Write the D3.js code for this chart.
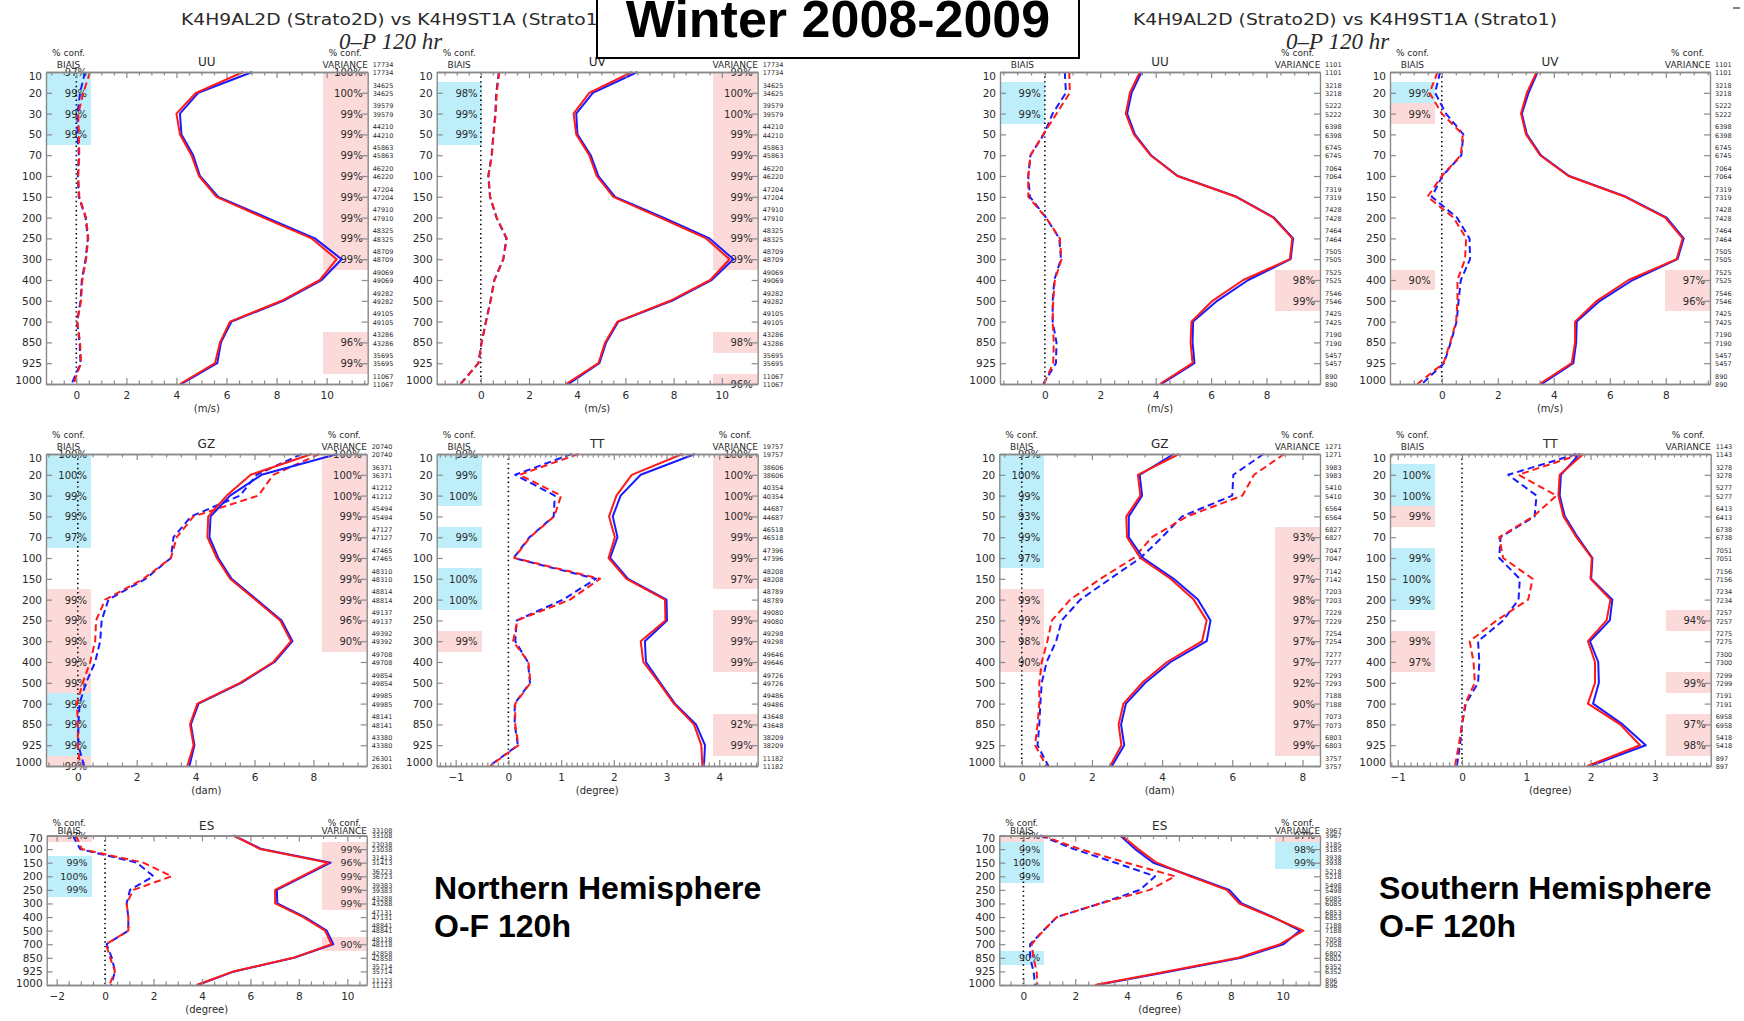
<!DOCTYPE html>
<html>
<head>
<meta charset="utf-8">
<script src="https://cdn.jsdelivr.net/npm/d3@7"></script>
<style>
  body { margin: 0; background: #fff; }
  svg { display: block; }
</style>
</head>
<body>
<svg id="chart" width="1744" height="1021"></svg>
<script>
// ---------------------------------------------------------------------------
// Pressure levels (hPa)
const levels   = [10, 20, 30, 50, 70, 100, 150, 200, 250, 300, 400, 500, 700, 850, 925, 1000];
const levelsES = [70, 100, 150, 200, 250, 300, 400, 500, 700, 850, 925, 1000];

// Confidence markers: [level, percent, kind]  kind "g" = gain, "l" = loss
// Series: std = standard deviation (solid), bias (dashed); A = Strato1 (blue), B = Strato2D (red)

// ---- Northern Hemisphere UU (m/s)
const nhUU_stdA  = [7.03, 4.87, 4.14, 4.2, 4.67, 4.94, 5.67, 7.6, 9.53, 10.6, 9.8, 8.27, 6.2, 5.78, 5.63, 4.2];
const nhUU_stdB  = [6.67, 4.78, 4.0, 4.14, 4.6, 4.9, 5.6, 7.47, 9.4, 10.4, 9.73, 8.2, 6.14, 5.74, 5.54, 4.14];
const nhUU_biasA = [0.35, 0.15, 0.05, 0.05, 0.1, 0.06, 0.1, 0.37, 0.46, 0.37, 0.22, 0.17, 0.03, 0.13, 0.17, -0.19];
const nhUU_biasB = [0.55, 0.28, 0.08, 0.1, 0.12, 0.08, 0.12, 0.39, 0.48, 0.39, 0.24, 0.19, 0.04, 0.15, 0.19, -0.12];
const nhUU_biasConf = [[10, 97, "g"], [20, 99, "g"], [30, 99, "g"], [50, 99, "g"]];
const nhUU_varConf  = [[10, 100, "l"], [20, 100, "l"], [30, 99, "l"], [50, 99, "l"], [70, 99, "l"], [100, 99, "l"],
                       [150, 99, "l"], [200, 99, "l"], [250, 99, "l"], [300, 99, "l"], [850, 96, "l"], [925, 99, "l"]];
const nhWind_counts = [17734, 34625, 39579, 44210, 45863, 46220, 47204, 47910, 48325, 48709, 49069, 49282, 49105, 43286, 35695, 11067];

// ---- Northern Hemisphere UV (m/s)
const nhUV_stdA  = [6.5, 4.65, 3.96, 4.01, 4.56, 4.88, 5.57, 7.58, 9.49, 10.48, 9.58, 7.93, 5.71, 5.2, 4.92, 3.64];
const nhUV_stdB  = [6.27, 4.5, 3.85, 3.96, 4.5, 4.81, 5.5, 7.44, 9.35, 10.32, 9.52, 7.86, 5.67, 5.16, 4.88, 3.54];
const nhUV_biasA = [0.75, 0.64, 0.6, 0.52, 0.45, 0.31, 0.38, 0.65, 1.06, 0.93, 0.56, 0.4, 0.21, 0.03, -0.1, -0.85];
const nhUV_biasB = [0.77, 0.66, 0.62, 0.53, 0.46, 0.32, 0.39, 0.66, 1.08, 0.94, 0.57, 0.41, 0.22, 0.04, -0.1, -0.83];
const nhUV_biasConf = [[20, 98, "g"], [30, 99, "g"], [50, 99, "g"]];
const nhUV_varConf  = [[10, 99, "l"], [20, 100, "l"], [30, 100, "l"], [50, 99, "l"], [70, 99, "l"], [100, 99, "l"],
                       [150, 99, "l"], [200, 99, "l"], [250, 99, "l"], [300, 99, "l"], [850, 98, "l"], [1000, 96, "l"]];

// ---- Southern Hemisphere UU (m/s)
const shUU_stdA  = [3.49, 3.13, 2.97, 3.25, 3.83, 4.8, 6.92, 8.27, 8.96, 8.87, 7.34, 6.22, 5.35, 5.33, 5.4, 4.21];
const shUU_stdB  = [3.43, 3.07, 2.92, 3.21, 3.81, 4.78, 6.9, 8.24, 8.93, 8.84, 7.16, 6.05, 5.29, 5.26, 5.33, 4.15];
const shUU_biasA = [0.72, 0.76, 0.28, -0.04, -0.52, -0.6, -0.54, 0.04, 0.52, 0.58, 0.34, 0.28, 0.28, 0.42, 0.4, -0.06];
const shUU_biasB = [0.88, 0.9, 0.42, -0.06, -0.52, -0.6, -0.6, 0.04, 0.54, 0.6, 0.36, 0.3, 0.28, 0.32, 0.3, -0.04];
const shUU_biasConf = [[20, 99, "g"], [30, 99, "g"]];
const shUU_varConf  = [[400, 98, "l"], [500, 99, "l"]];
const shWind_counts = [1101, 3218, 5222, 6398, 6745, 7064, 7319, 7428, 7464, 7505, 7525, 7546, 7425, 7190, 5457, 890];

// ---- Southern Hemisphere UV (m/s)
const shUV_stdA  = [3.42, 3.1, 2.86, 3.04, 3.54, 4.55, 6.58, 8.03, 8.64, 8.42, 6.82, 5.65, 4.82, 4.8, 4.7, 3.57];
const shUV_stdB  = [3.39, 3.04, 2.83, 3.01, 3.51, 4.52, 6.55, 7.98, 8.6, 8.39, 6.67, 5.54, 4.76, 4.76, 4.64, 3.49];
const shUV_biasA = [-0.06, -0.24, 0.15, 0.77, 0.7, 0.02, -0.36, 0.54, 0.99, 1.01, 0.68, 0.6, 0.53, 0.32, 0.08, -0.71];
const shUV_biasB = [-0.15, -0.44, 0.0, 0.75, 0.68, 0.0, -0.51, 0.42, 0.87, 0.83, 0.56, 0.56, 0.51, 0.3, 0.06, -0.87];
const shUV_biasConf = [[20, 99, "g"], [30, 99, "l"], [400, 90, "l"]];
const shUV_varConf  = [[400, 97, "l"], [500, 96, "l"]];

// ---- Northern Hemisphere GZ (dam)
const nhGZ_stdA  = [8.81, 6.24, 5.17, 4.51, 4.47, 4.77, 5.22, 6.07, 6.92, 7.29, 6.68, 5.55, 4.1, 3.84, 3.96, 3.79];
const nhGZ_stdB  = [7.94, 5.87, 5.06, 4.43, 4.4, 4.72, 5.17, 6.02, 6.87, 7.24, 6.64, 5.51, 4.06, 3.81, 3.93, 3.72];
const nhGZ_biasA = [7.6, 6.07, 5.51, 3.85, 3.25, 3.16, 2.3, 1.04, 0.81, 0.76, 0.59, 0.28, 0.06, 0.02, 0.02, 0.21];
const nhGZ_biasB = [8.2, 6.64, 6.13, 3.93, 3.36, 3.16, 2.23, 0.93, 0.62, 0.59, 0.42, 0.17, -0.03, 0.0, 0.0, 0.08];
const nhGZ_biasConf = [[10, 100, "g"], [20, 100, "g"], [30, 99, "g"], [50, 99, "g"], [70, 97, "g"],
                       [200, 99, "l"], [250, 99, "l"], [300, 99, "l"], [400, 99, "l"], [500, 99, "l"],
                       [700, 99, "g"], [850, 99, "g"], [925, 99, "g"], [1000, 99, "l"]];
const nhGZ_varConf  = [[10, 100, "l"], [20, 100, "l"], [30, 100, "l"], [50, 99, "l"], [70, 99, "l"], [100, 99, "l"],
                       [150, 99, "l"], [200, 99, "l"], [250, 96, "l"], [300, 90, "l"]];
const nhGZ_counts = [20740, 36371, 41212, 45494, 47127, 47465, 48310, 48814, 49137, 49392, 49708, 49854, 49985, 48141, 43380, 26301];

// ---- Northern Hemisphere TT (degree)
const nhTT_stdA  = [3.54, 2.51, 2.13, 1.98, 2.07, 1.93, 2.27, 3.0, 3.01, 2.59, 2.61, 2.88, 3.16, 3.56, 3.73, 3.71];
const nhTT_stdB  = [3.3, 2.34, 2.05, 1.91, 2.02, 1.9, 2.24, 2.97, 2.98, 2.51, 2.56, 2.86, 3.14, 3.52, 3.66, 3.68];
const nhTT_biasA = [1.2, 0.13, 0.88, 0.86, 0.4, 0.1, 1.66, 1.04, 0.16, 0.13, 0.37, 0.41, 0.12, 0.12, 0.18, -0.36];
const nhTT_biasB = [1.33, 0.21, 1.0, 0.87, 0.41, 0.11, 1.74, 1.17, 0.17, 0.09, 0.38, 0.42, 0.13, 0.13, 0.19, -0.35];
const nhTT_biasConf = [[10, 99, "g"], [20, 99, "g"], [30, 100, "g"], [70, 99, "g"], [150, 100, "g"], [200, 100, "g"], [300, 99, "l"]];
const nhTT_varConf  = [[10, 100, "l"], [20, 100, "l"], [30, 100, "l"], [50, 100, "l"], [70, 99, "l"], [100, 99, "l"],
                       [150, 97, "l"], [250, 99, "l"], [300, 99, "l"], [400, 99, "l"], [850, 92, "l"], [925, 99, "l"]];
const nhTT_counts = [19757, 38606, 40354, 44687, 46518, 47396, 48208, 48789, 49080, 49298, 49646, 49726, 49486, 43648, 38209, 11182];

// ---- Southern Hemisphere GZ (dam)
const shGZ_stdA  = [4.33, 3.36, 3.43, 3.05, 3.05, 3.46, 4.33, 5.02, 5.38, 5.27, 4.24, 3.52, 2.97, 2.83, 2.92, 2.57];
const shGZ_stdB  = [4.48, 3.31, 3.38, 2.98, 3.0, 3.38, 4.24, 4.9, 5.27, 5.14, 4.14, 3.43, 2.9, 2.76, 2.84, 2.52];
const shGZ_biasA = [6.89, 6.03, 6.0, 4.57, 4.0, 3.38, 2.52, 1.67, 1.14, 0.98, 0.71, 0.57, 0.53, 0.5, 0.45, 0.76];
const shGZ_biasB = [7.48, 6.62, 6.29, 4.71, 3.71, 3.19, 2.24, 1.38, 0.86, 0.73, 0.57, 0.5, 0.5, 0.45, 0.38, 0.7];
const shGZ_biasConf = [[10, 99, "g"], [20, 100, "g"], [30, 99, "g"], [50, 93, "g"], [70, 99, "g"], [100, 97, "g"],
                       [200, 99, "l"], [250, 99, "l"], [300, 98, "l"], [400, 90, "l"]];
const shGZ_varConf  = [[70, 93, "l"], [100, 99, "l"], [150, 97, "l"], [200, 98, "l"], [250, 97, "l"], [300, 97, "l"],
                       [400, 97, "l"], [500, 92, "l"], [700, 90, "l"], [850, 97, "l"], [925, 99, "l"]];
const shGZ_counts = [1271, 3983, 5410, 6564, 6827, 7047, 7142, 7203, 7229, 7254, 7277, 7293, 7188, 7073, 6803, 3757];

// ---- Southern Hemisphere TT (degree)
const shTT_stdA  = [1.83, 1.54, 1.52, 1.6, 1.8, 2.03, 2.01, 2.34, 2.3, 1.99, 2.12, 2.13, 2.04, 2.5, 2.86, 1.99];
const shTT_stdB  = [1.89, 1.52, 1.5, 1.58, 1.78, 2.02, 2.0, 2.31, 2.25, 1.96, 2.07, 2.07, 1.96, 2.46, 2.77, 1.95];
const shTT_biasA = [1.78, 0.72, 1.16, 1.13, 0.6, 0.58, 0.9, 0.88, 0.64, 0.25, 0.27, 0.25, 0.06, 0.0, -0.03, -0.08];
const shTT_biasB = [1.85, 0.88, 1.47, 1.11, 0.58, 0.64, 1.1, 1.03, 0.54, 0.12, 0.18, 0.2, 0.05, 0.0, -0.05, -0.11];
const shTT_biasConf = [[20, 100, "g"], [30, 100, "g"], [50, 99, "l"], [100, 99, "g"], [150, 100, "g"], [200, 99, "g"],
                       [300, 99, "l"], [400, 97, "l"]];
const shTT_varConf  = [[250, 94, "l"], [500, 99, "l"], [850, 97, "l"], [925, 98, "l"]];
const shTT_counts = [1143, 3278, 5277, 6413, 6738, 7051, 7156, 7234, 7257, 7275, 7300, 7299, 7191, 6958, 5418, 897];

// ---- Northern Hemisphere ES (degree)
const nhES_stdA  = [5.3, 6.46, 9.31, 8.19, 7.09, 7.11, 8.25, 9.15, 9.42, 7.8, 5.33, 3.82];
const nhES_stdB  = [5.3, 6.4, 9.22, 8.12, 7.02, 7.02, 8.18, 9.08, 9.35, 7.77, 5.3, 3.78];
const nhES_biasA = [-1.33, -1.03, 1.31, 2.0, 1.03, 0.89, 0.96, 0.96, 0.06, 0.28, 0.41, 0.25];
const nhES_biasB = [-1.2, -0.96, 1.58, 2.75, 1.17, 0.89, 0.96, 0.96, 0.04, 0.21, 0.41, 0.18];
const nhES_biasConf = [[70, 97, "l"], [150, 99, "g"], [200, 100, "g"], [250, 99, "g"]];
const nhES_varConf  = [[100, 99, "l"], [150, 96, "l"], [200, 99, "l"], [250, 99, "l"], [300, 99, "l"], [700, 90, "l"]];
const nhES_counts = [33108, 23038, 31413, 36723, 39383, 43288, 47131, 48841, 48118, 42858, 35714, 11123];

// ---- Southern Hemisphere ES (degree)
const shES_stdA  = [3.73, 4.31, 5.01, 6.5, 7.94, 8.42, 9.64, 10.67, 10.03, 8.4, 5.65, 2.83];
const shES_stdB  = [3.79, 4.43, 5.14, 6.43, 7.84, 8.33, 9.58, 10.8, 9.9, 8.29, 5.53, 2.76];
const shES_biasA = [0.64, 1.95, 3.55, 5.08, 4.5, 2.96, 1.29, 0.77, 0.26, 0.26, 0.39, 0.45];
const shES_biasB = [0.7, 2.18, 3.97, 5.85, 4.88, 2.96, 1.29, 0.77, 0.32, 0.39, 0.51, 0.54];
const shES_biasConf = [[70, 99, "l"], [100, 99, "g"], [150, 100, "g"], [200, 99, "g"], [850, 90, "g"]];
const shES_varConf  = [[70, 97, "l"], [100, 98, "g"], [150, 99, "g"]];
const shES_counts = [3967, 3185, 3938, 5218, 5498, 6085, 6853, 7188, 7058, 6802, 6352, 896];

// Axis tick values
const ticksWindNH = [0, 2, 4, 6, 8, 10];
const ticksWindSH = [0, 2, 4, 6, 8];
const ticksGZ     = [0, 2, 4, 6, 8];
const ticksTTNH   = [-1, 0, 1, 2, 3, 4];
const ticksTTSH   = [-1, 0, 1, 2, 3];
const ticksESNH   = [-2, 0, 2, 4, 6, 8, 10];
const ticksESSH   = [0, 2, 4, 6, 8, 10];

// ---------------------------------------------------------------------------
const svg = d3.select("#chart");
const FONT = "'DejaVu Sans', 'Liberation Sans', sans-serif";
const TXT = "#2a2a2a";
const FRAME = "#8a8a8a";
const BAND = { g: "#bdeefa", l: "#fcdada" };
const BLUE = "#1a1aff", RED = "#ff1a1a";

function panel(c) {
  const g = svg.append("g");
  const x = d3.scaleLinear().domain(c.domain).range([c.left, c.right]);
  const y = d3.scalePoint().domain(c.levels).range([c.top, c.bottom]);
  const step = y.step();
  const bw = (c.right - c.left) * 0.14;
  const compact = c.compact;

  // confidence bands
  function bands(conf, x0, labelRight) {
    conf.forEach(([lev, pct, k]) => {
      const yc = y(lev);
      const t = Math.max(c.top, yc - step / 2), b = Math.min(c.bottom, yc + step / 2);
      g.append("rect").attr("x", x0).attr("y", t).attr("width", bw).attr("height", b - t)
        .attr("fill", BAND[k]).attr("shape-rendering", "crispEdges");
    });
    conf.forEach(([lev, pct]) => {
      g.append("text").attr("x", labelRight).attr("y", y(lev) + 1)
        .attr("text-anchor", "end").attr("dominant-baseline", "middle")
        .attr("font-family", FONT).attr("font-size", compact ? 9.5 : 10).attr("fill", TXT)
        .text(pct + "%");
    });
  }
  bands(c.biasConf, c.left, c.left + bw - 4);
  bands(c.varConf, c.right - bw, c.right - 5);

  // zero reference line
  g.append("line").attr("x1", x(0)).attr("x2", x(0)).attr("y1", c.top).attr("y2", c.bottom)
    .attr("stroke", "#000").attr("stroke-width", 1.6).attr("stroke-dasharray", "1.4,3.2");

  // profiles
  const line = d3.line().x(d => x(d[1])).y(d => y(d[0]));
  const series = [
    [c.biasA, BLUE, true], [c.biasB, RED, true],
    [c.stdA, BLUE, false], [c.stdB, RED, false]
  ];
  series.forEach(([vals, col, dashed]) => {
    g.append("path").datum(c.levels.map((l, i) => [l, vals[i]]))
      .attr("d", line).attr("fill", "none").attr("stroke", col).attr("stroke-width", 2)
      .attr("stroke-linejoin", "round")
      .attr("stroke-dasharray", dashed ? "7,4" : null);
  });

  // axes
  const minor = d3.range(Math.ceil(c.domain[0] / c.minor) * c.minor, c.domain[1], c.minor)
    .filter(v => !c.ticks.some(t => Math.abs(t - v) < 1e-6));
  const styleAxis = sel => {
    sel.selectAll("path.domain").attr("stroke", FRAME).attr("stroke-width", 1.4);
    sel.selectAll(".tick line").attr("stroke", FRAME).attr("stroke-width", 1.2);
    sel.selectAll("text").attr("font-family", FONT).attr("fill", TXT);
  };
  // bottom
  g.append("g").attr("transform", `translate(0,${c.bottom})`)
    .call(d3.axisBottom(x).tickValues(c.ticks).tickSize(-6).tickSizeOuter(0).tickPadding(8)
      .tickFormat(d => d < 0 ? "\u2212" + Math.abs(d) : d))
    .call(styleAxis).call(s => s.selectAll("text").attr("font-size", 10.5));
  g.append("g").attr("transform", `translate(0,${c.bottom})`)
    .call(d3.axisBottom(x).tickValues(minor).tickSize(-3.5).tickSizeOuter(0).tickFormat(""))
    .call(styleAxis);
  // top
  g.append("g").attr("transform", `translate(0,${c.top})`)
    .call(d3.axisTop(x).tickValues(c.ticks).tickSize(-6).tickSizeOuter(0).tickFormat(""))
    .call(styleAxis);
  g.append("g").attr("transform", `translate(0,${c.top})`)
    .call(d3.axisTop(x).tickValues(minor).tickSize(-3.5).tickSizeOuter(0).tickFormat(""))
    .call(styleAxis);
  // left
  const nudge = step * 0.17;
  g.append("g").attr("transform", `translate(${c.left},0)`)
    .call(d3.axisLeft(y).tickSize(-6).tickSizeOuter(0).tickPadding(4))
    .call(styleAxis)
    .call(s => s.selectAll("text").attr("font-size", 10.5)
      .attr("dy", (d, i) => (i === 0 ? nudge : i === c.levels.length - 1 ? -nudge : 0) + 3.5));
  // right
  g.append("g").attr("transform", `translate(${c.right},0)`)
    .call(d3.axisRight(y).tickSize(-6).tickSizeOuter(0).tickFormat(""))
    .call(styleAxis);

  // sample counts
  const off = compact ? [-4, 1] : [-7, 1.5];
  c.levels.forEach((l, i) => {
    off.forEach(o => {
      g.append("text").attr("x", c.right + 5).attr("y", y(l) + o)
        .attr("dominant-baseline", "middle")
        .attr("font-family", FONT).attr("font-size", 6.5).attr("fill", TXT)
        .text(c.counts[i]);
    });
  });

  // headers
  const hdr = (xx, yy, txt, size) => g.append("text").attr("x", xx).attr("y", yy)
    .attr("text-anchor", "middle").attr("dominant-baseline", "middle")
    .attr("font-family", FONT).attr("font-size", size).attr("fill", TXT).text(txt);
  const hConf = compact ? c.top - 12 : c.top - 19;
  const hName = compact ? c.top - 4 : c.top - 7;
  hdr(c.left + bw / 2, hConf, "% conf.", 9);
  hdr(c.left + bw / 2, hName, "BIAIS", 9);
  hdr(c.right - bw / 2, hConf, "% conf.", 9);
  hdr(c.right - bw / 2, hName, "VARIANCE", 9);
  hdr((c.left + c.right) / 2, c.top - 9.5, c.name, 12);
  hdr((c.left + c.right) / 2, c.bottom + 25, c.unit, 10);
}

const row1 = { top: 72, bottom: 384 };
const row2 = { top: 454, bottom: 766 };
const row3 = { top: 835.5, bottom: 985, compact: true };

// titles (drawn first so the season box sits over them)
function title(x0, y0) {
  svg.append("text").attr("x", x0).attr("y", y0).attr("dominant-baseline", "middle")
    .attr("font-family", FONT).attr("font-size", 15).attr("fill", TXT)
    .attr("textLength", 424).attr("lengthAdjust", "spacingAndGlyphs")
    .text("K4H9AL2D (Strato2D) vs K4H9ST1A (Strato1)");
}
title(181, 20);
title(1133, 20);

const panels = [
  Object.assign({ name: "UU", unit: "(m/s)", left: 46, right: 367.7, domain: [-1.21, 11.64], ticks: ticksWindNH, minor: 0.5,
    levels, stdA: nhUU_stdA, stdB: nhUU_stdB, biasA: nhUU_biasA, biasB: nhUU_biasB,
    biasConf: nhUU_biasConf, varConf: nhUU_varConf, counts: nhWind_counts }, row1),
  Object.assign({ name: "UV", unit: "(m/s)", left: 436.7, right: 757.7, domain: [-1.83, 11.49], ticks: ticksWindNH, minor: 0.5,
    levels, stdA: nhUV_stdA, stdB: nhUV_stdB, biasA: nhUV_biasA, biasB: nhUV_biasB,
    biasConf: nhUV_biasConf, varConf: nhUV_varConf, counts: nhWind_counts }, row1),
  Object.assign({ name: "UU", unit: "(m/s)", left: 1000, right: 1320, domain: [-1.62, 9.93], ticks: ticksWindSH, minor: 0.5,
    levels, stdA: shUU_stdA, stdB: shUU_stdB, biasA: shUU_biasA, biasB: shUU_biasB,
    biasConf: shUU_biasConf, varConf: shUU_varConf, counts: shWind_counts }, row1),
  Object.assign({ name: "UV", unit: "(m/s)", left: 1390, right: 1710, domain: [-1.85, 9.58], ticks: ticksWindSH, minor: 0.5,
    levels, stdA: shUV_stdA, stdB: shUV_stdB, biasA: shUV_biasA, biasB: shUV_biasB,
    biasConf: shUV_biasConf, varConf: shUV_varConf, counts: shWind_counts }, row1),
  Object.assign({ name: "GZ", unit: "(dam)", left: 46, right: 366.7, domain: [-1.08, 9.81], ticks: ticksGZ, minor: 0.5,
    levels, stdA: nhGZ_stdA, stdB: nhGZ_stdB, biasA: nhGZ_biasA, biasB: nhGZ_biasB,
    biasConf: nhGZ_biasConf, varConf: nhGZ_varConf, counts: nhGZ_counts }, row2),
  Object.assign({ name: "TT", unit: "(degree)", left: 436.7, right: 757.7, domain: [-1.36, 4.73], ticks: ticksTTNH, minor: 0.1,
    levels, stdA: nhTT_stdA, stdB: nhTT_stdB, biasA: nhTT_biasA, biasB: nhTT_biasB,
    biasConf: nhTT_biasConf, varConf: nhTT_varConf, counts: nhTT_counts }, row2),
  Object.assign({ name: "GZ", unit: "(dam)", left: 999.3, right: 1320, domain: [-0.64, 8.5], ticks: ticksGZ, minor: 0.5,
    levels, stdA: shGZ_stdA, stdB: shGZ_stdB, biasA: shGZ_biasA, biasB: shGZ_biasB,
    biasConf: shGZ_biasConf, varConf: shGZ_varConf, counts: shGZ_counts }, row2),
  Object.assign({ name: "TT", unit: "(degree)", left: 1390, right: 1710.7, domain: [-1.12, 3.87], ticks: ticksTTSH, minor: 0.1,
    levels, stdA: shTT_stdA, stdB: shTT_stdB, biasA: shTT_biasA, biasB: shTT_biasB,
    biasConf: shTT_biasConf, varConf: shTT_varConf, counts: shTT_counts }, row2),
  Object.assign({ name: "ES", unit: "(degree)", left: 46.7, right: 366.7, domain: [-2.41, 10.8], ticks: ticksESNH, minor: 0.5,
    levels: levelsES, stdA: nhES_stdA, stdB: nhES_stdB, biasA: nhES_biasA, biasB: nhES_biasB,
    biasConf: nhES_biasConf, varConf: nhES_varConf, counts: nhES_counts }, row3),
  Object.assign({ name: "ES", unit: "(degree)", left: 999.3, right: 1320, domain: [-0.93, 11.44], ticks: ticksESSH, minor: 0.5,
    levels: levelsES, stdA: shES_stdA, stdB: shES_stdB, biasA: shES_biasA, biasB: shES_biasB,
    biasConf: shES_biasConf, varConf: shES_varConf, counts: shES_counts }, row3)
];
panels.forEach(panel);

// forecast-range subtitles
function sub(x0) {
  svg.append("text").attr("x", x0).attr("y", 44).attr("dominant-baseline", "middle")
    .attr("font-family", "'Liberation Serif', serif").attr("font-style", "italic")
    .attr("font-size", 23).attr("fill", TXT).text("0\u2013P 120 hr");
}
sub(339);
sub(1286);

// season box
svg.append("rect").attr("x", 597).attr("y", -4).attr("width", 482).attr("height", 62)
  .attr("fill", "#fff").attr("stroke", "#000").attr("stroke-width", 2);
svg.append("text").attr("x", 838).attr("y", 37).attr("text-anchor", "middle")
  .attr("font-family", "'Liberation Sans', Arial, sans-serif").attr("font-weight", "bold")
  .attr("font-size", 52).attr("fill", "#000").text("Winter 2008-2009");

// small mark at the top-right edge
svg.append("line").attr("x1", 1733).attr("x2", 1740).attr("y1", 8).attr("y2", 8)
  .attr("stroke", "#333").attr("stroke-width", 1.2);

// hemisphere captions
function caption(x0, hemi) {
  const t = svg.append("text").attr("font-family", "'Liberation Sans', Arial, sans-serif")
    .attr("font-weight", "bold").attr("font-size", 32).attr("fill", "#000");
  t.append("tspan").attr("x", x0).attr("y", 899).text(hemi);
  t.append("tspan").attr("x", x0).attr("y", 937).text("O-F 120h");
}
caption(434, "Northern Hemisphere");
caption(1379, "Southern Hemisphere");
</script>
</body>
</html>
